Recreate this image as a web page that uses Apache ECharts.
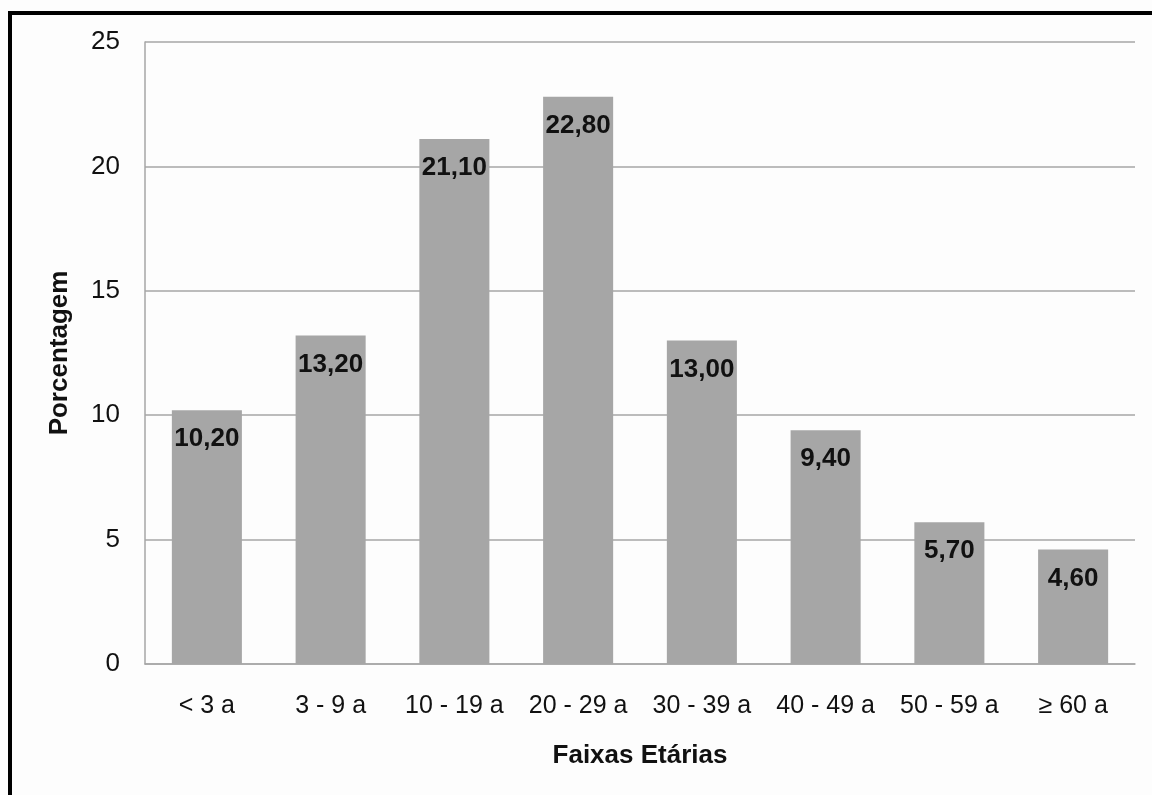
<!DOCTYPE html>
<html>
<head>
<meta charset="utf-8">
<script src="https://cdn.jsdelivr.net/npm/echarts@6/dist/echarts.min.js"></script>
<style>
  html, body { margin: 0; padding: 0; background: #fdfdfd; }
  #chart { width: 1152px; height: 795px; }
  #frame { position: absolute; left: 8px; top: 11px; width: 1200px; height: 900px;
           border-top: 4px solid #000; border-left: 4px solid #000; pointer-events: none; }
</style>
</head>
<body>
<div id="chart"></div>
<div id="frame"></div>
<script>
const categories = ['< 3 a', '3 - 9 a', '10 - 19 a', '20 - 29 a', '30 - 39 a', '40 - 49 a', '50 - 59 a', '\u2265 60 a'];
const percentages = [10.2, 13.2, 21.1, 22.8, 13.0, 9.4, 5.7, 4.6];
const yAxisName = 'Porcentagem';
const xAxisName = 'Faixas Etárias';

const FONT = '"Liberation Sans", Arial, sans-serif';
const chart = echarts.init(document.getElementById('chart'), null, { renderer: 'canvas' });
chart.setOption({
  backgroundColor: '#fdfdfd',
  animation: false,
  grid: { left: 145, top: 42, width: 990, height: 622, containLabel: false },
  xAxis: {
    type: 'category',
    data: categories,
    name: xAxisName,
    nameLocation: 'middle',
    nameGap: 79,
    nameTextStyle: { fontFamily: FONT, fontSize: 26, fontWeight: 'bold', color: '#111' },
    axisLine: { show: true, lineStyle: { color: '#a6a6a6', width: 1.5 } },
    axisTick: { show: false },
    axisLabel: { fontFamily: FONT, fontSize: 25, color: '#111', margin: 30, interval: 0 }
  },
  yAxis: {
    type: 'value',
    min: 0, max: 25, interval: 5,
    name: yAxisName,
    nameLocation: 'middle',
    nameGap: 72,
    nameRotate: 90,
    nameTextStyle: { fontFamily: FONT, fontSize: 26, fontWeight: 'bold', color: '#111' },
    axisLine: { show: true, lineStyle: { color: '#a6a6a6', width: 1.5 } },
    axisTick: { show: false },
    axisLabel: { fontFamily: FONT, fontSize: 26, color: '#111', margin: 25 },
    splitLine: { show: true, lineStyle: { color: '#a6a6a6', width: 1.5 } }
  },
  series: [{
    type: 'bar',
    data: percentages,
    barWidth: '56.6%',
    itemStyle: { color: '#a6a6a6' },
    label: {
      show: true,
      position: 'insideTop',
      distance: 16,
      fontFamily: FONT,
      fontSize: 26,
      fontWeight: 'bold',
      color: '#111',
      formatter: p => p.value.toFixed(2).replace('.', ',')
    }
  }]
});
</script>
</body>
</html>
